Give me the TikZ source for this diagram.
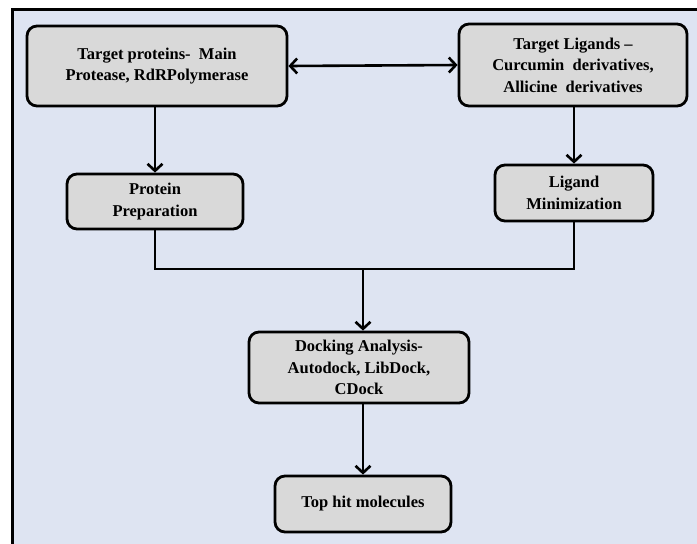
\documentclass[tikz,border=0pt]{standalone}
\usepackage{fontspec}
\setmainfont{Liberation Serif}
\usetikzlibrary{arrows.meta, positioning}
\definecolor{cpanel}{HTML}{DEE4F2}
\definecolor{cbox}{HTML}{D9D9D9}
\tikzset{
  every picture/.style={font=\bfseries\fontsize{16.5}{21.5}\selectfont, line width=2.6pt},
  box/.style={draw=black, fill=cbox, rounded corners=10pt, align=center, line width=2.8pt, inner sep=4pt},
  arrow/.style={-{Straight Barb[length=7pt, width=15pt, line width=2.6pt]}, draw=black, line width=2.6pt},
  link/.style={draw=black, line width=2.6pt},
}
\begin{document}
\begin{tikzpicture}[x=1pt, y=-1pt]
  \useasboundingbox (0,0) rectangle (697,544);
  % ---------- panel
  \fill[cpanel] (12.5,9.5) rectangle (720,570);
  \draw[line width=3.5pt] (12.5,570) -- (12.5,9.5) -- (720,9.5);
  % ---------- boxes
  \node[box, minimum width=260pt, minimum height=80pt] (tp) at (157,66) {Target proteins-\ \ Main\\Protease, RdRPolymerase};
  \node[box, minimum width=228pt, minimum height=82pt] (tl) at (573,65) {Target Ligands --\\Curcumin\ \ derivatives,\\Allicine\ \ derivatives};
  \node[box, minimum width=176pt, minimum height=55pt] (pp) at (155,201.5) {Protein\\Preparation};
  \node[box, minimum width=158pt, minimum height=56pt] (lm) at (574,193) {Ligand\\Minimization};
  \node[box, minimum width=220pt, minimum height=71pt] (da) at (359,367.5) {Docking Analysis-\\Autodock, LibDock,\\CDock};
  \node[box, minimum width=176pt, minimum height=56pt] (th) at (363,504) {Top hit molecules};
  % ---------- connectors
  \coordinate (j) at (363,269);
  \draw[arrow, {Straight Barb[length=7pt, width=15pt, line width=2.6pt]}-{Straight Barb[length=7pt, width=15pt, line width=2.6pt]}] (tp.east) -- (tl.west);
  \draw[arrow] (pp.north |- tp.south) -- (pp.north);
  \draw[arrow] (lm.north |- tl.south) -- (lm.north);
  \draw[link] (pp.south) |- (j) -| (lm.south);
  \draw[arrow] (j) -- (j |- da.north);
  \draw[arrow] (th.north |- da.south) -- (th.north);
\end{tikzpicture}
\end{document}
